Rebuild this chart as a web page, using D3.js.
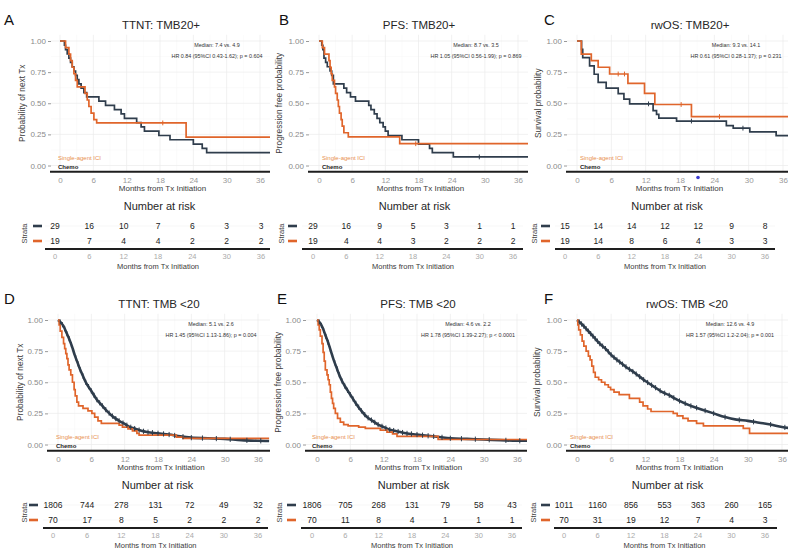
<!DOCTYPE html>
<html>
<head>
<meta charset="utf-8">
<script src="https://cdn.jsdelivr.net/npm/d3@7"></script>
<style>
  body { margin: 0; background: #fff; }
  svg { display: block; font-family: "Liberation Sans", Arial, sans-serif; }
</style>
</head>
<body>
<svg id="fig" width="800" height="556"></svg>
<script>
// ---- shared ticks ----
const monthTicks = [0, 6, 12, 18, 24, 30, 36];
const survTicks = [0, 0.25, 0.5, 0.75, 1];
const survTickLabels = ["0.00", "0.25", "0.50", "0.75", "1.00"];

// ---- A: TTNT, TMB20+ ----  [months, survival]
const ttntHighChemo = [[0,1],[0.8,0.966],[1.0,0.931],[1.3,0.897],[1.6,0.862],[1.9,0.828],[2.2,0.793],[2.5,0.759],[2.8,0.724],[3.1,0.69],[3.4,0.655],[3.8,0.621],[4.3,0.586],[4.8,0.552],[7.0,0.517],[8.2,0.483],[9.8,0.448],[11.0,0.414],[11.6,0.379],[13.8,0.345],[14.6,0.31],[15.2,0.276],[17.8,0.241],[19.8,0.207],[24.0,0.172],[25.6,0.138],[26.4,0.103],[38,0.103]];
const ttntHighIci = [[0,1],[1.0,0.947],[1.6,0.895],[1.9,0.842],[2.2,0.789],[2.5,0.737],[2.8,0.684],[3.1,0.632],[4.5,0.579],[4.9,0.526],[5.2,0.474],[5.6,0.421],[6.1,0.368],[6.6,0.342],[22.7,0.228],[38,0.228]];
const ttntHighChemoCens = [];
const ttntHighIciCens = [18.5];
const ttntHighRiskChemo = [29, 16, 10, 7, 6, 3, 3];
const ttntHighRiskIci = [19, 7, 4, 4, 2, 2, 2];

// ---- B: PFS, TMB20+ ----
const pfsHighChemo = [[0,1],[0.5,0.966],[0.7,0.931],[0.9,0.862],[1.2,0.828],[1.5,0.793],[2.0,0.759],[2.3,0.724],[2.6,0.655],[4.5,0.621],[5.0,0.586],[5.7,0.552],[6.6,0.517],[9.0,0.483],[9.4,0.448],[10.0,0.414],[10.5,0.379],[11.0,0.345],[11.6,0.31],[12.0,0.276],[12.5,0.241],[15.0,0.207],[18.0,0.172],[20.0,0.138],[20.5,0.103],[24.3,0.069],[38,0.069]];
const pfsHighIci = [[0,1],[0.6,0.947],[1.0,0.895],[1.8,0.842],[2.0,0.789],[2.2,0.737],[2.4,0.684],[2.8,0.632],[3.0,0.579],[3.3,0.526],[3.5,0.474],[3.7,0.421],[4.0,0.368],[4.2,0.316],[4.5,0.263],[5.3,0.23],[14.6,0.175],[38,0.175]];
const pfsHighChemoCens = [29];
const pfsHighIciCens = [17.5];
const pfsHighRiskChemo = [29, 16, 9, 5, 3, 1, 1];
const pfsHighRiskIci = [19, 4, 4, 3, 2, 2, 2];

// ---- C: rwOS, TMB20+ ----
const osHighChemo = [[0,1],[0.8,0.933],[1.0,0.867],[2.2,0.8],[3.0,0.733],[3.7,0.667],[5.1,0.622],[7.2,0.578],[8.2,0.533],[9.2,0.495],[13.3,0.44],[13.9,0.41],[14.3,0.38],[17.4,0.357],[26.1,0.32],[27.3,0.3],[30.2,0.27],[34.8,0.24],[38,0.24]];
const osHighIci = [[0,1],[0.75,0.895],[2.5,0.842],[3.7,0.789],[5.7,0.735],[8.9,0.66],[11.8,0.58],[13.6,0.49],[20.0,0.393],[38,0.393]];
const osHighChemoCens = [12.5, 20, 29];
const osHighIciCens = [7.2, 8.3, 18.2, 24.9];
const osHighRiskChemo = [15, 14, 14, 12, 12, 9, 8];
const osHighRiskIci = [19, 14, 8, 6, 4, 3, 3];

// ---- D: TTNT, TMB <20 ----
const ttntLowChemo = [[0,1],[0.5,0.98],[1,0.95],[1.5,0.9],[2,0.85],[2.5,0.79],[3,0.72],[3.5,0.66],[4,0.6],[4.5,0.55],[5,0.5],[6,0.43],[7,0.36],[8,0.31],[9,0.26],[10,0.22],[11,0.19],[12,0.165],[13,0.14],[14,0.125],[15,0.11],[16,0.1],[18,0.09],[20,0.08],[22,0.065],[24,0.055],[27,0.05],[30,0.045],[33,0.035],[36,0.03],[38,0.028]];
const ttntLowIci = [[0,1],[0.2,0.96],[0.4,0.91],[0.7,0.86],[1.0,0.81],[1.2,0.77],[1.4,0.73],[1.6,0.69],[1.8,0.64],[2.0,0.6],[2.3,0.56],[2.6,0.5],[2.9,0.44],[3.1,0.39],[3.4,0.34],[3.7,0.31],[4.5,0.29],[5.4,0.27],[6.1,0.25],[6.6,0.22],[7.2,0.19],[7.8,0.17],[11.0,0.155],[11.6,0.14],[12.6,0.125],[13.4,0.11],[14.2,0.09],[14.6,0.075],[21.3,0.06],[22.5,0.05],[38,0.05]];
const ttntLowRiskChemo = [1806, 744, 278, 131, 72, 49, 32];
const ttntLowRiskIci = [70, 17, 8, 5, 2, 2, 2];

// ---- E: PFS, TMB <20 ----
const pfsLowChemo = [[0,1],[0.5,0.98],[1,0.94],[1.5,0.88],[2,0.82],[2.5,0.75],[3,0.68],[3.5,0.62],[4,0.56],[4.5,0.51],[5,0.47],[6,0.4],[7,0.33],[8,0.27],[9,0.22],[10,0.19],[11,0.16],[12,0.14],[13,0.12],[14,0.11],[15,0.1],[16,0.09],[18,0.08],[20,0.07],[22,0.06],[24,0.05],[27,0.045],[30,0.04],[33,0.035],[36,0.03],[38,0.03]];
const pfsLowIci = [[0,1],[0.2,0.96],[0.4,0.92],[0.6,0.87],[0.9,0.81],[1.1,0.74],[1.3,0.67],[1.5,0.6],[1.8,0.56],[2.0,0.52],[2.2,0.48],[2.4,0.42],[2.6,0.37],[2.8,0.33],[3.0,0.29],[3.3,0.25],[3.7,0.21],[4.2,0.18],[4.8,0.16],[5.6,0.15],[7.5,0.14],[8.7,0.13],[11.4,0.115],[12.6,0.1],[13.6,0.085],[14.4,0.065],[21.8,0.04],[38,0.04]];
const pfsLowRiskChemo = [1806, 705, 268, 131, 79, 58, 43];
const pfsLowRiskIci = [70, 11, 8, 4, 1, 1, 1];

// ---- F: rwOS, TMB <20 ----
const osLowChemo = [[0,1],[1,0.96],[2,0.91],[3,0.86],[4,0.81],[5,0.77],[6,0.72],[7,0.68],[8,0.645],[9,0.61],[10,0.58],[11,0.545],[12,0.51],[13,0.48],[14,0.45],[15,0.42],[16,0.4],[17,0.375],[18,0.35],[20,0.31],[22,0.28],[24,0.25],[26,0.22],[28,0.2],[30,0.19],[32,0.175],[34,0.16],[36,0.14],[37.8,0.13]];
const osLowIci = [[0,1],[0.15,0.96],[0.3,0.92],[0.6,0.88],[0.9,0.83],[1.2,0.79],[1.6,0.75],[2.0,0.71],[2.3,0.68],[2.6,0.63],[2.9,0.58],[3.2,0.54],[3.8,0.52],[4.3,0.5],[4.9,0.48],[5.5,0.46],[5.9,0.44],[6.5,0.42],[7.4,0.4],[9.2,0.37],[11.0,0.34],[11.6,0.31],[12.4,0.285],[13.0,0.265],[16.9,0.25],[17.6,0.23],[18.6,0.21],[19.5,0.19],[21.0,0.17],[22.2,0.15],[29.2,0.13],[30.3,0.09],[38,0.09]];
const osLowRiskChemo = [1011, 1160, 856, 553, 363, 260, 165];
const osLowRiskIci = [70, 31, 19, 12, 7, 4, 3];

// censor marks on the large chemo arms (they are nearly continuous)
const bigChemoCens = [0.4,0.8,1.2,1.6,2.0,2.4,2.8,3.2,3.6,4.0,4.5,5.0,5.5,6.0,6.5,7.0,7.5,8.0,8.6,9.2,9.8,10.4,11.0,11.7,12.4,13.1,13.8,14.6,15.4,16.2,17.0,18.0,19.0,20.0,21.0,22.5,24.0,26.0,28.5,31.0,34.0,36.5];

const CHEMO = "#2f3d4c";
const ICI = "#e0652b";

const panels = [
  { letter: "A", title: "TTNT: TMB20+", ylab: "Probability of next Tx",
    median: "Median: 7.4 vs. 4.9", hr: "HR 0.84 (95%CI 0.43-1.62); p = 0.604",
    chemo: ttntHighChemo, ici: ttntHighIci, chemoCens: ttntHighChemoCens, iciCens: ttntHighIciCens,
    riskChemo: ttntHighRiskChemo, riskIci: ttntHighRiskIci, big: false,
    lay: { row: 0, x0: 60, x36: 260, left: 51, right: 270, letterX: 4, titleX: 161, annX: 217, ylabX: 25,
           legX: 58, rx0: 55, rx36: 261, strataX: 24, dashX: 33, raL: 45, raR: 270 } },
  { letter: "B", title: "PFS: TMB20+", ylab: "Progression free probability",
    median: "Median: 8.7 vs. 3.5", hr: "HR 1.05 (95%CI 0.56-1.99); p = 0.869",
    chemo: pfsHighChemo, ici: pfsHighIci, chemoCens: pfsHighChemoCens, iciCens: pfsHighIciCens,
    riskChemo: pfsHighRiskChemo, riskIci: pfsHighRiskIci, big: false,
    lay: { row: 0, x0: 319, x36: 518, left: 309, right: 528, letterX: 279, titleX: 419, annX: 476, ylabX: 282,
           legX: 322, rx0: 313, rx36: 513, strataX: 281, dashX: 288, raL: 302, raR: 523 } },
  { letter: "C", title: "rwOS: TMB20+", ylab: "Survival probability",
    median: "Median: 9.3 vs. 14.1", hr: "HR 0.61 (95%CI 0.28-1.37); p = 0.231",
    chemo: osHighChemo, ici: osHighIci, chemoCens: osHighChemoCens, iciCens: osHighIciCens,
    riskChemo: osHighRiskChemo, riskIci: osHighRiskIci, big: false,
    lay: { row: 0, x0: 577, x36: 783, left: 567, right: 788, letterX: 544, titleX: 690, annX: 736, ylabX: 541,
           legX: 580, rx0: 565, rx36: 765, strataX: 534, dashX: 541, raL: 555, raR: 775 } },
  { letter: "D", title: "TTNT: TMB <20", ylab: "Probability of next Tx",
    median: "Median: 5.1 vs. 2.6", hr: "HR 1.45 (95%CI 1.13-1.86); p = 0.004",
    chemo: ttntLowChemo, ici: ttntLowIci, chemoCens: bigChemoCens, iciCens: [],
    riskChemo: ttntLowRiskChemo, riskIci: ttntLowRiskIci, big: true,
    lay: { row: 1, x0: 58, x36: 258, left: 48, right: 270, letterX: 4, titleX: 159, annX: 211, ylabX: 23,
           legX: 56, rx0: 53, rx36: 258, strataX: 24, dashX: 29, raL: 43, raR: 268 } },
  { letter: "E", title: "PFS: TMB <20", ylab: "Progression free probability",
    median: "Median: 4.6 vs. 2.2", hr: "HR 1.78 (95%CI 1.39-2.27); p < 0.0001",
    chemo: pfsLowChemo, ici: pfsLowIci, chemoCens: bigChemoCens, iciCens: [],
    riskChemo: pfsLowRiskChemo, riskIci: pfsLowRiskIci, big: true,
    lay: { row: 1, x0: 317, x36: 517, left: 306, right: 527, letterX: 277, titleX: 418, annX: 468, ylabX: 281,
           legX: 312, rx0: 312, rx36: 512, strataX: 279, dashX: 287, raL: 301, raR: 522 } },
  { letter: "F", title: "rwOS: TMB <20", ylab: "Survival probability",
    median: "Median: 12.6 vs. 4.9", hr: "HR 1.57 (95%CI 1.2-2.04); p = 0.001",
    chemo: osLowChemo, ici: osLowIci, chemoCens: bigChemoCens, iciCens: [],
    riskChemo: osLowRiskChemo, riskIci: osLowRiskIci, big: true,
    lay: { row: 1, x0: 577, x36: 782, left: 567, right: 788, letterX: 544, titleX: 687, annX: 730, ylabX: 540,
           legX: 570, rx0: 564, rx36: 765, strataX: 533, dashX: 541, raL: 554, raR: 777 } }
];

const svg = d3.select("#fig");

function survAt(data, t) {
  let s = data[0][1];
  for (const d of data) { if (d[0] <= t) s = d[1]; }
  return s;
}

function drawPanel(p) {
  const L = p.lay;
  const dy = L.row === 0 ? 0 : 279;
  const x = d3.scaleLinear().domain([0, 36]).range([L.x0, L.x36]);
  const y = d3.scaleLinear().domain([0, 1]).range([165.5 + dy, 41 + dy]);
  const top = y(1.05), bottom = y(-0.05);
  const g = svg.append("g");

  // grid (minor then major)
  const minorX = [3, 9, 15, 21, 27, 33], minorY = [0.125, 0.375, 0.625, 0.875];
  g.selectAll(".mx").data(minorX).enter().append("line")
    .attr("x1", d => x(d)).attr("x2", d => x(d)).attr("y1", top).attr("y2", bottom)
    .attr("stroke", "#f6f6f6").attr("stroke-width", 0.5);
  g.selectAll(".my").data(minorY).enter().append("line")
    .attr("x1", L.left).attr("x2", L.right).attr("y1", d => y(d)).attr("y2", d => y(d))
    .attr("stroke", "#f6f6f6").attr("stroke-width", 0.5);
  g.selectAll(".gx").data(monthTicks).enter().append("line")
    .attr("x1", d => x(d)).attr("x2", d => x(d)).attr("y1", top).attr("y2", bottom)
    .attr("stroke", "#ebebeb").attr("stroke-width", 0.7);
  g.selectAll(".gy").data(survTicks).enter().append("line")
    .attr("x1", L.left).attr("x2", L.right).attr("y1", d => y(d)).attr("y2", d => y(d))
    .attr("stroke", "#ebebeb").attr("stroke-width", 0.7);

  // y axis
  const yAxis = g.append("g").attr("transform", "translate(" + L.left + ",0)")
    .call(d3.axisLeft(y).tickValues(survTicks).tickFormat((d, i) => survTickLabels[i]).tickSize(3).tickPadding(2));
  yAxis.select(".domain").remove();
  yAxis.selectAll("line").attr("stroke", "#9a9a9a");
  yAxis.selectAll("text").attr("fill", "#8a8a8a").attr("font-size", "8px")
    .attr("font-family", "Liberation Sans, Arial, sans-serif");

  // x axis
  const xAxis = g.append("g").attr("transform", "translate(0," + bottom + ")")
    .call(d3.axisBottom(x).tickValues(monthTicks).tickSize(0).tickPadding(6));
  xAxis.select(".domain").remove();
  xAxis.selectAll("text").attr("fill", "#9a9a9a").attr("font-size", "8px")
    .attr("font-family", "Liberation Sans, Arial, sans-serif");
  g.append("line").attr("x1", L.left - 1).attr("x2", L.right).attr("y1", bottom).attr("y2", bottom)
    .attr("stroke", "#1e1e1e").attr("stroke-width", 2);

  g.append("text").attr("x", (L.left + L.right) / 2 + 2).attr("y", 191 + dy)
    .attr("text-anchor", "middle").attr("font-size", "8px").attr("fill", "#3a3a3a")
    .text("Months from Tx Initiation");
  g.append("text").attr("transform", "translate(" + L.ylabX + "," + y(0.5) + ") rotate(-90)")
    .attr("text-anchor", "middle").attr("font-size", "8.3px").attr("fill", "#3a3a3a")
    .text(p.ylab);

  // titles
  g.append("text").attr("x", L.titleX).attr("y", 29 + dy).attr("text-anchor", "middle")
    .attr("font-size", "11.5px").attr("fill", "#262626").text(p.title);
  g.append("text").attr("x", L.letterX).attr("y", 25 + dy)
    .attr("font-size", "15px").attr("fill", "#111").text(p.letter);
  g.append("text").attr("x", L.annX).attr("y", 47 + dy).attr("text-anchor", "middle")
    .attr("font-size", "5.4px").attr("fill", "#333").text(p.median);
  g.append("text").attr("x", L.annX).attr("y", 58 + dy).attr("text-anchor", "middle")
    .attr("font-size", "5.4px").attr("fill", "#333").text(p.hr);

  // curves
  const clipId = "clip" + p.letter;
  svg.append("clipPath").attr("id", clipId).append("rect")
    .attr("x", L.left).attr("y", top - 2).attr("width", L.right - L.left).attr("height", bottom - top);
  const cg = g.append("g").attr("clip-path", "url(#" + clipId + ")");
  const stepLine = d3.line().curve(d3.curveStepAfter).x(d => x(d[0])).y(d => y(d[1]));
  const smoothLine = d3.line().curve(d3.curveMonotoneX).x(d => x(d[0])).y(d => y(d[1]));

  cg.append("path").datum(p.chemo)
    .attr("d", p.big ? smoothLine : stepLine)
    .attr("fill", "none").attr("stroke", CHEMO).attr("stroke-width", p.big ? 2.6 : 1.7);
  cg.append("path").datum(p.ici)
    .attr("d", stepLine)
    .attr("fill", "none").attr("stroke", ICI).attr("stroke-width", 1.7);

  const markH = p.big ? 2.6 : 2.4;
  cg.selectAll(".cc").data(p.chemoCens).enter().append("line")
    .attr("x1", d => x(d)).attr("x2", d => x(d))
    .attr("y1", d => y(p.big ? interp(p.chemo, d) : survAt(p.chemo, d)) - markH)
    .attr("y2", d => y(p.big ? interp(p.chemo, d) : survAt(p.chemo, d)) + markH)
    .attr("stroke", CHEMO).attr("stroke-width", 1);
  cg.selectAll(".ci").data(p.iciCens).enter().append("line")
    .attr("x1", d => x(d)).attr("x2", d => x(d))
    .attr("y1", d => y(survAt(p.ici, d)) - 2.4).attr("y2", d => y(survAt(p.ici, d)) + 2.4)
    .attr("stroke", ICI).attr("stroke-width", 1);

  // in-plot legend
  g.append("text").attr("x", L.legX).attr("y", 160 + dy).attr("font-size", "6px")
    .attr("fill", "#e8904e").text("Single-agent ICI");
  g.append("text").attr("x", L.legX).attr("y", 169 + dy).attr("font-size", "6px")
    .attr("font-weight", "bold").attr("fill", "#222").text("Chemo");

  // risk table
  const rx = d3.scaleLinear().domain([0, 36]).range([L.rx0, L.rx36]);
  const rows = [{ v: p.riskChemo, c: CHEMO, yy: 226 + dy }, { v: p.riskIci, c: ICI, yy: 241 + dy }];
  g.append("text").attr("x", (L.raL + L.raR) / 2 + 2).attr("y", 210 + dy).attr("text-anchor", "middle")
    .attr("font-size", "11px").attr("fill", "#262626").text("Number at risk");
  rows.forEach(r => {
    g.append("line").attr("x1", L.raL).attr("x2", L.raR).attr("y1", r.yy).attr("y2", r.yy)
      .attr("stroke", "#f1f1f1").attr("stroke-width", 0.6);
    g.append("line").attr("x1", L.dashX).attr("x2", L.dashX + 9).attr("y1", r.yy).attr("y2", r.yy)
      .attr("stroke", r.c).attr("stroke-width", 2.6);
    g.selectAll(null).data(r.v).enter().append("text")
      .attr("x", (d, i) => rx(monthTicks[i])).attr("y", r.yy + 3)
      .attr("text-anchor", "middle").attr("font-size", "8.5px").attr("fill", "#222")
      .text(d => d);
  });
  g.append("text").attr("transform", "translate(" + (L.strataX + 3) + "," + (233.5 + dy) + ") rotate(-90)")
    .attr("text-anchor", "middle").attr("font-size", "7.5px").attr("fill", "#444").text("Strata");
  g.append("line").attr("x1", L.raL).attr("x2", L.raR).attr("y1", 249 + dy).attr("y2", 249 + dy)
    .attr("stroke", "#1e1e1e").attr("stroke-width", 2);
  g.selectAll(null).data(monthTicks).enter().append("text")
    .attr("x", d => rx(d)).attr("y", 259 + dy).attr("text-anchor", "middle")
    .attr("font-size", "7.5px").attr("fill", "#aaa").text(d => d);
  g.append("text").attr("x", (L.rx0 + L.rx36) / 2).attr("y", 269 + dy).attr("text-anchor", "middle")
    .attr("font-size", "7.5px").attr("fill", "#3a3a3a").text("Months from Tx Initiation");
}

function interp(data, t) {
  for (let i = 1; i < data.length; i++) {
    if (data[i][0] >= t) {
      const a = data[i - 1], b = data[i];
      return a[1] + (b[1] - a[1]) * (t - a[0]) / (b[0] - a[0]);
    }
  }
  return data[data.length - 1][1];
}

panels.forEach(drawPanel);

// small blue dot visible under panel C's axis
svg.append("circle").attr("cx", 698).attr("cy", 177.5).attr("r", 1.8).attr("fill", "#3a3ad0");
</script>
</body>
</html>
